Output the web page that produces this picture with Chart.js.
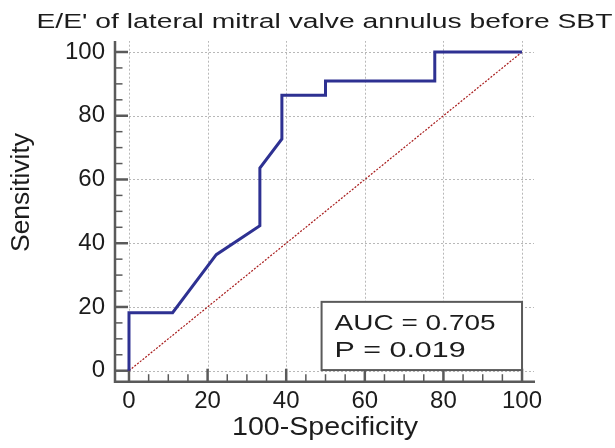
<!DOCTYPE html>
<html>
<head>
<meta charset="utf-8">
<title>ROC curve</title>
<script src="https://cdn.jsdelivr.net/npm/chart.js@4.4.0/dist/chart.umd.min.js"></script>
<style>
  html, body { margin: 0; padding: 0; background: #fff; }
  canvas { display: block; }
</style>
</head>
<body>
<canvas id="rocChart" width="615" height="448"></canvas>
<script>
var chartTitle = "E/E' of lateral mitral valve annulus before SBT";
var xTitle = "100-Specificity";
var yTitle = "Sensitivity";
// ROC curve: 100-specificity (x) against sensitivity (y)
var specPoints = [0, 0, 11.1, 22.2, 33.3, 33.3, 38.9, 38.9, 50, 50, 77.8, 77.8, 100];
var sensPoints = [0, 18.2, 18.2, 36.4, 45.5, 63.6, 72.7, 86.4, 86.4, 90.9, 90.9, 100, 100];
var refLine = [0, 100];
var tickValues = [0, 20, 40, 60, 80, 100];
var statLines = ["AUC = 0.705", "P = 0.019"];

var textColor = '#1c1c1c';
var axisColor = '#5a5a5a';
var fontFamily = '"Liberation Sans", Arial, sans-serif';

// draw text squeezed/stretched to a given width (the source image is wide)
function stretchText(ctx, text, x, y, size, width, align) {
  ctx.save();
  ctx.font = size + 'px ' + fontFamily;
  ctx.fillStyle = textColor;
  ctx.textBaseline = 'alphabetic';
  ctx.textAlign = align || 'left';
  var k = width / ctx.measureText(text).width;
  ctx.translate(x, y);
  ctx.scale(k, 1);
  ctx.fillText(text, 0, 0);
  ctx.restore();
}

var framePlugin = {
  id: 'frame',
  beforeDatasetsDraw: function (chart) {
    var ctx = chart.ctx, xs = chart.scales.x, ys = chart.scales.y, area = chart.chartArea;
    var x0 = xs.getPixelForValue(0), y0 = ys.getPixelForValue(0);
    ctx.save();
    // dotted grid
    ctx.strokeStyle = '#b8b8b8';
    ctx.lineWidth = 1;
    ctx.setLineDash([2, 2]);
    tickValues.forEach(function (v) {
      var px = Math.round(xs.getPixelForValue(v)) + 0.5;
      var py = Math.round(ys.getPixelForValue(v)) + 0.5;
      ctx.beginPath(); ctx.moveTo(px, y0); ctx.lineTo(px, area.top); ctx.stroke();
      ctx.beginPath(); ctx.moveTo(x0, py); ctx.lineTo(area.right - 1, py); ctx.stroke();
    });
    ctx.setLineDash([]);
    // axis lines
    ctx.strokeStyle = axisColor;
    ctx.lineWidth = 2.5;
    ctx.beginPath();
    ctx.moveTo(area.left, area.top);
    ctx.lineTo(area.left, area.bottom);
    ctx.lineTo(area.right, area.bottom);
    ctx.stroke();
    // inward ticks, major every 20, minor every 5
    for (var v = 0; v <= 100; v += 5) {
      var major = v % 20 === 0;
      var len = major ? 13 : 7.5;
      ctx.lineWidth = major ? 2.5 : 1.5;
      var py = ys.getPixelForValue(v);
      var px = xs.getPixelForValue(v);
      ctx.beginPath(); ctx.moveTo(area.left, py); ctx.lineTo(area.left + len, py); ctx.stroke();
      ctx.beginPath(); ctx.moveTo(px, area.bottom); ctx.lineTo(px, area.bottom - len); ctx.stroke();
    }
    ctx.restore();
  },
  afterDatasetsDraw: function (chart) {
    var ctx = chart.ctx, xs = chart.scales.x, ys = chart.scales.y;
    // AUC box
    var bx = xs.getPixelForValue(49), bx2 = xs.getPixelForValue(100);
    var by = ys.getPixelForValue(21.6), by2 = ys.getPixelForValue(0.2);
    ctx.save();
    ctx.fillStyle = '#fff';
    ctx.fillRect(bx, by, bx2 - bx, by2 - by);
    ctx.strokeStyle = axisColor;
    ctx.lineWidth = 2;
    ctx.strokeRect(bx, by, bx2 - bx, by2 - by);
    ctx.restore();
    stretchText(ctx, statLines[0], bx + 13, by + 28, 22, 161);
    stretchText(ctx, statLines[1], bx + 13, by + 55, 22, 131);
  },
  afterDraw: function (chart) {
    var ctx = chart.ctx;
    stretchText(ctx, chartTitle, 36.5, 27.5, 20.5, 576);
    stretchText(ctx, xTitle, 325, 434.5, 25.5, 186, 'center');
    ctx.save();
    ctx.translate(29, 192.5);
    ctx.rotate(-Math.PI / 2);
    stretchText(ctx, yTitle, 0, 0, 25.5, 119, 'center');
    ctx.restore();
  }
};

function makeTicks(scale) {
  scale.ticks = tickValues.map(function (v) { return { value: v }; });
}

function renderRocChart() {
  var rocData = specPoints.map(function (x, i) { return { x: x, y: sensPoints[i] }; });
  var diagData = refLine.map(function (v) { return { x: v, y: v }; });
  var ctx = document.getElementById('rocChart');
  new Chart(ctx, {
    type: 'line',
    data: {
      datasets: [{
        data: rocData,
        borderColor: '#2e3192',
        borderWidth: 3,
        pointRadius: 0,
        tension: 0,
        fill: false
      }, {
        data: diagData,
        borderColor: '#a81c1c',
        borderWidth: 1.2,
        borderDash: [2, 1.5],
        pointRadius: 0,
        fill: false
      }]
    },
    options: {
      responsive: false,
      animation: false,
      events: [],
      layout: { padding: { top: 41, right: 80, bottom: 0, left: 0 } },
      plugins: {
        legend: { display: false },
        tooltip: { enabled: false }
      },
      scales: {
        x: {
          type: 'linear',
          min: -3.56,
          max: 103.3,
          afterBuildTicks: makeTicks,
          afterFit: function (scale) { scale.height = 66.3; },
          grid: { display: false, drawTicks: false },
          border: { display: false },
          ticks: { padding: 5, color: textColor, font: { family: fontFamily, size: 24 } }
        },
        y: {
          type: 'linear',
          min: -3.45,
          max: 103.45,
          afterBuildTicks: makeTicks,
          afterFit: function (scale) { scale.width = 115; },
          grid: { display: false, drawTicks: false },
          border: { display: false },
          ticks: { padding: 10, color: textColor, font: { family: fontFamily, size: 24 } }
        }
      }
    },
    plugins: [framePlugin]
  });
}

renderRocChart();
</script>
</body>
</html>
